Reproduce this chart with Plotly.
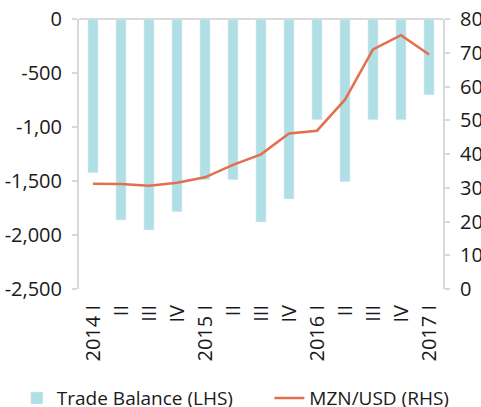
import plotly.graph_objects as go

BAR = "#B0E0E6"
LINE = "#E2704E"
AXIS = "#D9D9D9"
TEXT = "#1A1A1A"

quarters = ["2014 I", "II", "III", "IV", "2015 I", "II", "III", "IV",
            "2016 I", "II", "III", "IV", "2017 I"]
trade_balance = [-1423, -1860, -1954, -1785, -1488, -1488, -1880, -1667,
                 -932, -1506, -932, -932, -702]
mzn_usd = [31.2, 31.1, 30.6, 31.5, 33.1, 36.8, 39.9, 46.1,
           46.9, 56.1, 71.0, 75.2, 69.5]
lhs_ticks = [-2500, -2000, -1500, -1000, -500, 0]
lhs_text = ["-2,500", "-2,000", "-1,500", "-1,00", "-500", "0"]

pos = list(range(len(quarters)))

fig = go.Figure()
fig.add_trace(go.Bar(x=pos, y=trade_balance, name="Trade Balance (LHS)",
                     marker_color=BAR, width=0.36, yaxis="y", legend="legend"))
fig.add_trace(go.Scatter(x=pos, y=mzn_usd, name="MZN/USD (RHS)", mode="lines",
                         line=dict(color=LINE, width=2.5), yaxis="y2", legend="legend2"))

axis_style = dict(showgrid=False, zeroline=False, showline=True, linecolor=AXIS,
                  linewidth=2, ticks="outside", ticklen=5, tickcolor=AXIS, tickwidth=2,
                  tickfont=dict(size=20), ticklabelstandoff=6, ticklabeloverflow="allow")

fig.update_layout(
    width=481, height=407,
    paper_bgcolor="white", plot_bgcolor="white",
    font=dict(family="Open Sans", size=20, color=TEXT),
    margin=dict(l=79, r=38, t=19, b=118, autoexpand=False),
    showlegend=True,
    legend=dict(xref="container", yref="container", x=0.035, y=0.022,
                xanchor="left", yanchor="middle", font=dict(size=19)),
    legend2=dict(xref="container", yref="container", x=0.56, y=0.022,
                 xanchor="left", yanchor="middle", font=dict(size=19)),
    xaxis=dict(range=[-0.5, 12.5], tickvals=pos, ticktext=quarters, tickangle=-90,
               showline=False, showgrid=False, zeroline=False, tickfont=dict(size=20),
               ticks="outside", ticklen=7, tickcolor="white"),
    yaxis=dict(range=[-2500, 0], tickvals=lhs_ticks, ticktext=lhs_text, **axis_style),
    yaxis2=dict(range=[0, 80], dtick=10, overlaying="y", side="right", **axis_style),
    shapes=[dict(type="line", xref="paper", yref="paper", x0=0, x1=1, y0=1, y1=1,
                 line=dict(color=AXIS, width=2), layer="below")],
)

# drop the default 8px body margin and any scrollbar so the figure fills the window
page_js = ("document.body.style.margin='0';"
           "document.body.style.overflow='hidden';"
           "document.documentElement.style.overflow='hidden';")
fig.write_html("out.html", config={"displayModeBar": False}, post_script=page_js)
